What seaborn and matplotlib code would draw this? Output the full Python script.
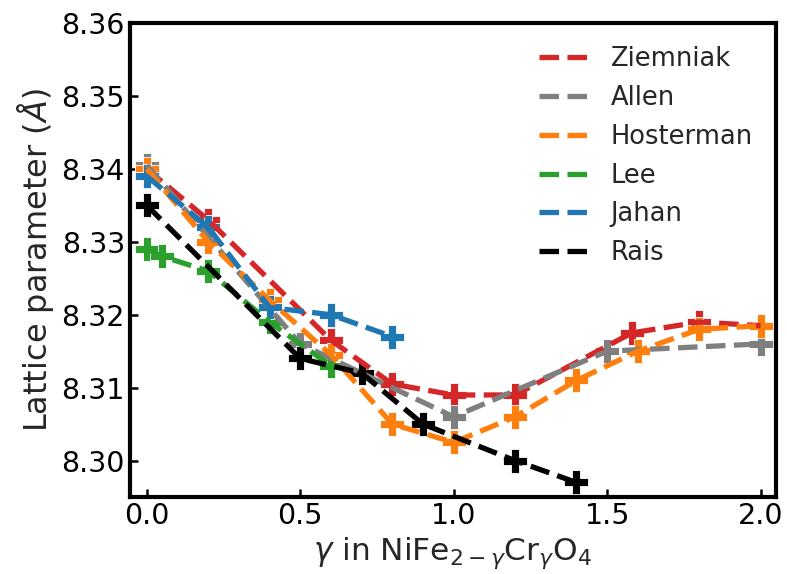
import numpy as np
import pandas as pd
import matplotlib
matplotlib.use("Agg")
import matplotlib.pyplot as plt
import seaborn as sns
from matplotlib.ticker import FormatStrFormatter

# Lattice parameter of NiFe(2-y)Cr(y)O4 reported by different studies
ziemniak_x = [0.0, 0.2, 0.6, 0.8, 1.0, 1.2, 1.58, 1.8, 2.0]
ziemniak_a = [8.340, 8.333, 8.3165, 8.3105, 8.309, 8.309, 8.3175, 8.319, 8.3185]

allen_x = [0.0, 0.5, 1.0, 1.5, 2.0]
allen_a = [8.3405, 8.316, 8.306, 8.315, 8.316]

hosterman_x = [0.0, 0.2, 0.4, 0.6, 0.8, 1.0, 1.2, 1.4, 1.6, 1.8, 2.0]
hosterman_a = [8.340, 8.330, 8.322, 8.3145, 8.305, 8.3025, 8.306, 8.311, 8.315, 8.318, 8.3185]

lee_x = [0.0, 0.05, 0.2, 0.4, 0.6]
lee_a = [8.329, 8.328, 8.326, 8.319, 8.313]

jahan_x = [0.0, 0.2, 0.4, 0.6, 0.8]
jahan_a = [8.339, 8.332, 8.321, 8.320, 8.317]

rais_x = [0.0, 0.5, 0.7, 0.9, 1.2, 1.4]
rais_a = [8.335, 8.314, 8.312, 8.305, 8.300, 8.297]

series = [
    ("Ziemniak", ziemniak_x, ziemniak_a, "#d62728"),
    ("Allen", allen_x, allen_a, "#7f7f7f"),
    ("Hosterman", hosterman_x, hosterman_a, "#ff7f0e"),
    ("Lee", lee_x, lee_a, "#2ca02c"),
    ("Jahan", jahan_x, jahan_a, "#1f77b4"),
    ("Rais", rais_x, rais_a, "black"),
]

y_ticks = [8.30, 8.31, 8.32, 8.33, 8.34, 8.35, 8.36]
x_ticks = [0.0, 0.5, 1.0, 1.5, 2.0]

sns.set_style("white")
plt.rcParams["font.family"] = ["DejaVu Sans"]

fig = plt.figure(figsize=(7.87, 5.74), dpi=100)
ax = fig.add_axes([0.165, 0.134, 0.821, 0.826])

for name, xs, ys, col in series:
    df = pd.DataFrame({"x": xs, "a": ys})
    sns.lineplot(data=df, x="x", y="a", color=col, linestyle="--",
                 linewidth=3.8, label=name, ax=ax)
    sns.scatterplot(data=df, x="x", y="a", color=col, marker="P",
                    s=320, linewidth=0.6, legend=False, ax=ax)

ax.set_xlim(-0.055, 2.05)
ax.set_ylim(8.295, 8.36)
ax.set_xticks(x_ticks)
ax.set_yticks(y_ticks)
ax.yaxis.set_major_formatter(FormatStrFormatter("%.2f"))
ax.xaxis.set_major_formatter(FormatStrFormatter("%.1f"))

ax.tick_params(direction="in", length=6, width=1.8, labelsize=20.5,
               colors="black", bottom=True, left=True)
for sp in ax.spines.values():
    sp.set_linewidth(3)
    sp.set_color("black")

ax.set_xlabel(r"$\gamma$ in NiFe$_{2-\gamma}$Cr$_{\gamma}$O$_4$", fontsize=22.5)
ax.set_ylabel(r"Lattice parameter ($Å$)", fontsize=23)

ax.legend(frameon=False, fontsize=18.5, loc="upper right", labelspacing=0.5)

fig.savefig("out.png", dpi=100)
